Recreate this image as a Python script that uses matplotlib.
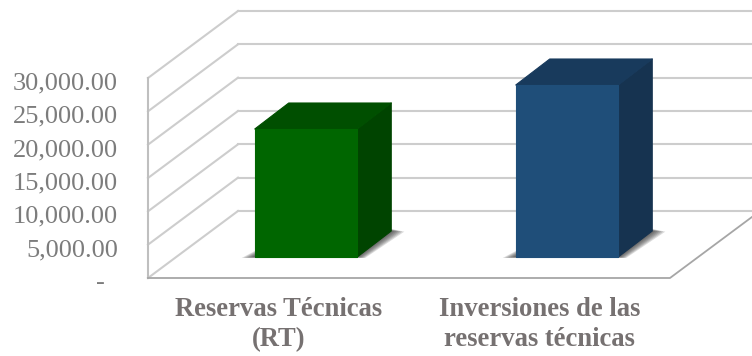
import matplotlib
matplotlib.use("Agg")
import matplotlib.pyplot as plt
from matplotlib.patches import Polygon
from matplotlib.ticker import FuncFormatter
from matplotlib.transforms import ScaledTranslation

# chart data
categories = ["Reservas Técnicas\n(RT)", "Inversiones de las\nreservas técnicas"]
values = [19200, 25800]
front_colors = ["#006600", "#1f4e79"]
top_colors = ["#004f00", "#183a5c"]
side_colors = ["#004400", "#163350"]
y_ticks = [0, 5000, 10000, 15000, 20000, 25000, 30000]

W, H = 752, 356
LEFT, RIGHT, BOTTOM, TOP = 148, 670, 278, 78

# depth of the 3d box, in data units (x categories, y value)
WALL_DX, WALL_DY = 90 / 261, 67 * 150
BAR_DX, BAR_DY = 34 / 261, 26 * 150
BAR_W = 102.5 / 261
BAR_SHIFT, BAR_BASE = 27.5 / 261, 21 * 150

GRID = "#cdcdcd"
TEXT = "#767171"

plt.rcParams["font.family"] = ["Liberation Serif", "DejaVu Serif"]

fig = plt.figure(figsize=(W / 100, H / 100), dpi=100)
ax = fig.add_axes([LEFT / W, 1 - BOTTOM / H, (RIGHT - LEFT) / W, (BOTTOM - TOP) / H])
ax.set_xlim(-0.5, 1.5)
ax.set_ylim(0, 30000)
for s in ax.spines.values():
    s.set_visible(False)


def fmt(v, pos):
    return "-  " if v == 0 else "{:,.2f}".format(v)


ax.set_yticks(y_ticks)
ax.yaxis.set_major_formatter(FuncFormatter(fmt))
ax.set_xticks(range(len(categories)))
ax.set_xticklabels(categories, fontweight="bold", fontsize=19.2, color=TEXT, linespacing=1.27)
ax.tick_params(axis="y", length=0, pad=21.6, labelsize=19, labelcolor="#7c7c7c")
ax.tick_params(axis="x", length=0, pad=13.5)

# value labels sit a little under their gridline
down = ScaledTranslation(0, -2.1 / 72, fig.dpi_scale_trans)
for lab in ax.get_yticklabels():
    lab.set_transform(lab.get_transform() + down)

x0, x1 = ax.get_xlim()

# walls: diagonal grid on the left, horizontal grid behind
for v in y_ticks:
    ax.plot([x0, x0 + WALL_DX], [v, v + WALL_DY], color=GRID, lw=1.5, clip_on=False, zorder=1)
    ax.plot([x0 + WALL_DX, x1 + WALL_DX], [v + WALL_DY, v + WALL_DY], color=GRID, lw=1.5,
            clip_on=False, zorder=1)
ax.plot([x0, x0], [0, 30000], color="#bfbfbf", lw=1.5, clip_on=False, zorder=1)

# floor edges
ax.plot([x0, x1, x1 + WALL_DX], [0, 0, WALL_DY], color="#a6a6a6", lw=1.3, clip_on=False, zorder=2)

# bars
for i, v in enumerate(values):
    xl = i + BAR_SHIFT - BAR_W / 2
    xr = xl + BAR_W
    yb = BAR_BASE
    yt = yb + v

    # soft shadow on the floor, stacked from wide to narrow
    for k in [1.0, 0.85, 0.7, 0.55, 0.4, 0.25, 0.12]:
        ax.add_patch(Polygon([(xl - 0.05 * k, yb - 150 * k), (xr + 0.03 * k, yb - 150 * k),
                              (xr + BAR_DX + 0.05 * k, yb + BAR_DY - 100 * k),
                              (xr + BAR_DX, yb + BAR_DY + 300 * k), (xl, yb + 900 * k)],
                             closed=True, fc="#303030", ec="none", alpha=0.17,
                             clip_on=False, zorder=3))

    ax.add_patch(Polygon([(xr, yb), (xr + BAR_DX, yb + BAR_DY), (xr + BAR_DX, yt + BAR_DY), (xr, yt)],
                         closed=True, fc=side_colors[i], ec=side_colors[i], lw=0.8,
                         joinstyle="round", clip_on=False, zorder=4))
    ax.add_patch(Polygon([(xl, yt), (xr, yt), (xr + BAR_DX, yt + BAR_DY), (xl + BAR_DX, yt + BAR_DY)],
                         closed=True, fc=top_colors[i], ec=top_colors[i], lw=0.8,
                         joinstyle="round", clip_on=False, zorder=4))
    ax.add_patch(Polygon([(xl, yb), (xr, yb), (xr, yt), (xl, yt)],
                         closed=True, fc=front_colors[i], ec=front_colors[i], lw=0.8,
                         joinstyle="round", clip_on=False, zorder=5))

fig.savefig("out.png", dpi=100)
